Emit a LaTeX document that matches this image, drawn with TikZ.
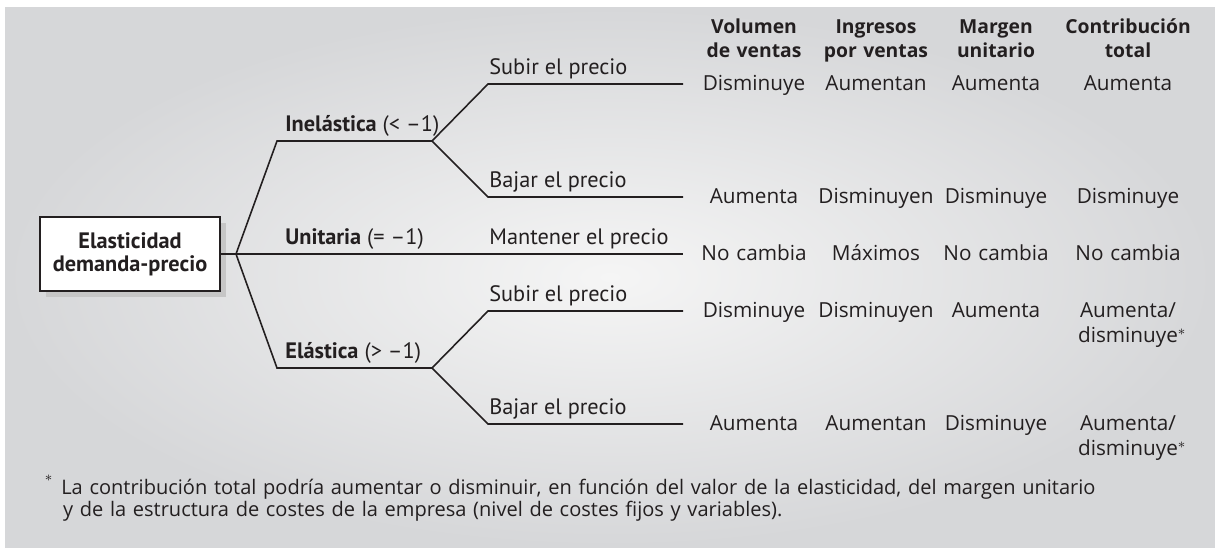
\documentclass[tikz,border=0pt]{standalone}
\usepackage{fontspec}
\setmainfont{PT Sans}
\newfontfamily\tabfont{Open Sans}
\usetikzlibrary{positioning,shadows}

\definecolor{panelmid}{RGB}{245,245,245}
\definecolor{panelside}{RGB}{214,215,217}
\definecolor{ink}{RGB}{35,31,32}

\tikzset{
	branch/.style={draw=ink, line width=0.9pt},
	rootbox/.style={draw=ink, line width=1.1pt, fill=white, align=center,
		minimum width=3.6cm, minimum height=1.48cm, text=ink,
		font=\bfseries\fontsize{12.7}{13}\selectfont,
		drop shadow={shadow xshift=0.12cm, shadow yshift=-0.12cm, fill=gray!45, opacity=1}},
	lbl/.style={anchor=base west, inner sep=0pt, text=ink, font=\fontsize{12.7}{15}\selectfont},
	cell/.style={anchor=base, inner sep=0pt, text width=3cm, align=center, text=ink,
		font=\tabfont\fontsize{11.8}{14.7}\selectfont},
	hdr/.style={cell, font=\tabfont\bfseries\fontsize{11}{14.2}\selectfont},
	note/.style={anchor=base west, inner sep=0pt, text width=23cm, align=left, text=ink,
		font=\tabfont\fontsize{11.4}{13}\selectfont}
}

\begin{document}
\begin{tikzpicture}[x=0.02cm, y=-0.02cm]
	\useasboundingbox (0,0) rectangle (1215,552);
	\shade[inner color=panelmid, outer color=panelside] (5,7) rectangle (1215,547);

	% tree
	\node[rootbox] (root) at (130,254) {Elasticidad\\demanda-precio};
	\coordinate (split) at (236,254);
	\coordinate (inel) at (277,141);
	\coordinate (inelfork) at (432,141);
	\coordinate (unit) at (277,254);
	\coordinate (elas) at (277,368);
	\coordinate (elasfork) at (432,368);
	\foreach \nm/\yy in {subA/84, bajA/197, mant/254, subB/311, bajB/424} {
		\coordinate (\nm) at (488,\yy);
		\coordinate (\nm-end) at (683,\yy);
	}
	\coordinate (bajB-heavy) at (603,424);
	\draw[branch] (root.east) -- (split) -- (inel) -- (inelfork) -- (subA) -- (subA-end);
	\draw[branch] (inelfork) -- (bajA) -- (bajA-end);
	\draw[branch] (split) -- (mant-end);
	\draw[branch] (split) -- (elas) -- (elasfork) -- (subB) -- (subB-end);
	\draw[branch] (elasfork) -- (bajB) -- (bajB-end);
	\draw[branch, line width=1.6pt] (bajB-heavy) -- (bajB-end);

	\node[lbl] (inel-lbl) at ([shift={(8,-10)}]inel) {\textbf{Inelástica} (< –1)};
	\node[lbl] (unit-lbl) at ([shift={(8,-10)}]unit) {\textbf{Unitaria} (= –1)};
	\node[lbl] (elas-lbl) at ([shift={(8,-10)}]elas) {\textbf{Elástica} (> –1)};
	\foreach \nm/\txt in {subA/Subir el precio, bajA/Bajar el precio, mant/Mantener el precio, subB/Subir el precio, bajB/Bajar el precio}
		\node[lbl] (\nm-lbl) at ([shift={(1,-10)}]\nm) {\txt};

	% table
	\foreach \hd [count=\k] in {{Volumen\\de ventas}, {Ingresos\\por ventas}, {Margen\\unitario}, {Contribución\\total}} {
		\pgfmathsetmacro\cx{{754,876,996,1128}[\k-1]}
		\node[hdr] (head-\k) at (\cx,33) {\hd};
	}
	\foreach \r/\yy/\row in {1/84/{Disminuye,Aumentan,Aumenta,Aumenta},
		2/197/{Aumenta,Disminuyen,Disminuye,Disminuye},
		3/254/{No cambia,Máximos,No cambia,No cambia},
		4/311/{Disminuye,Disminuyen,Aumenta,{Aumenta/\\disminuye\rlap{$^*$}}},
		5/424/{Aumenta,Aumentan,Disminuye,{Aumenta/\\disminuye\rlap{$^*$}}}} {
		\foreach \v [count=\k] in \row {
			\pgfmathsetmacro\cx{{754,876,996,1128}[\k-1]}
			\node[cell] (cell-\r-\k) at (\cx,\yy+6) {\v};
		}
	}

	% footnote
	\node[note] (footnote) at (61,494) {\llap{\raisebox{0.5ex}{$^{*}$}\hspace{0.4em}}La contribución total podría aumentar o disminuir, en función del valor de la elasticidad, del margen unitario\\\hspace{1pt}y de la estructura de costes de la empresa (nivel de costes fijos y variables).};
\end{tikzpicture}
\end{document}
